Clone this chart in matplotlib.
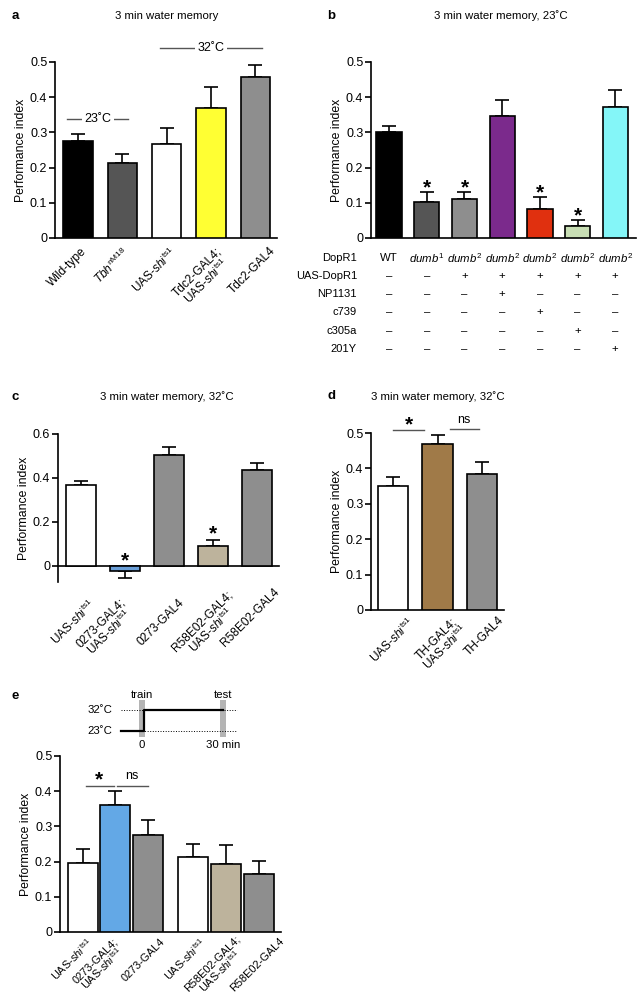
import matplotlib
matplotlib.use('Agg')
import matplotlib.pyplot as plt
import matplotlib.transforms as mtransforms
import numpy as np

plt.rcParams['font.family'] = ['Liberation Sans', 'DejaVu Sans']
plt.rcParams['mathtext.fontset'] = 'custom'
plt.rcParams['mathtext.rm'] = 'Liberation Sans'
plt.rcParams['mathtext.it'] = 'Liberation Sans:italic'
plt.rcParams['mathtext.bf'] = 'Liberation Sans:bold'

W, H = 642, 999
fig = plt.figure(figsize=(W / 100, H / 100), dpi=100)

SHI = r'UAS-$\mathit{shi}^{\mathrm{ts1}}$'

# ---------------- data ----------------
a_labels = ['Wild-type', r'$\mathit{Tbh}^{\mathrm{nM18}}$', SHI, 'Tdc2-GAL4;\n' + SHI, 'Tdc2-GAL4']
a_means = [0.276, 0.214, 0.268, 0.368, 0.458]
a_errs = [0.019, 0.025, 0.044, 0.062, 0.034]
a_colors = ['#000000', '#555555', '#ffffff', '#ffff33', '#8e8e8e']

b_means = [0.302, 0.101, 0.110, 0.347, 0.083, 0.033, 0.371]
b_errs = [0.017, 0.029, 0.020, 0.046, 0.033, 0.019, 0.049]
b_colors = ['#000000', '#555555', '#8e8e8e', '#7b2a8c', '#e0300f', '#c8deb4', '#84f6f8']
b_stars = [False, True, True, False, True, True, False]
b_row_labels = ['DopR1', 'UAS-DopR1', 'NP1131', 'c739', 'c305a', '201Y']
b_rows = [
    ['WT', r'$\mathit{dumb}^{\mathrm{1}}$', r'$\mathit{dumb}^{\mathrm{2}}$', r'$\mathit{dumb}^{\mathrm{2}}$',
     r'$\mathit{dumb}^{\mathrm{2}}$', r'$\mathit{dumb}^{\mathrm{2}}$', r'$\mathit{dumb}^{\mathrm{2}}$'],
    ['–', '–', '+', '+', '+', '+', '+'],
    ['–', '–', '–', '+', '–', '–', '–'],
    ['–', '–', '–', '–', '+', '–', '–'],
    ['–', '–', '–', '–', '–', '+', '–'],
    ['–', '–', '–', '–', '–', '–', '+'],
]

c_labels = [SHI, '0273-GAL4;\n' + SHI, '0273-GAL4', 'R58E02-GAL4;\n' + SHI, 'R58E02-GAL4']
c_means = [0.370, -0.023, 0.503, 0.092, 0.436]
c_errs = [0.018, 0.030, 0.036, 0.028, 0.034]
c_colors = ['#ffffff', '#6a9fd8', '#8e8e8e', '#bdb39c', '#8e8e8e']
c_stars = [False, True, False, True, False]

d_labels = [SHI, 'TH-GAL4;\n' + SHI, 'TH-GAL4']
d_means = [0.350, 0.469, 0.385]
d_errs = [0.027, 0.026, 0.032]
d_colors = ['#ffffff', '#a07a48', '#8e8e8e']

e_labels = [SHI, '0273-GAL4;\n' + SHI, '0273-GAL4', SHI, 'R58E02-GAL4;\n' + SHI, 'R58E02-GAL4']
e_pos = [0, 1, 2, 3.4, 4.4, 5.4]
e_means = [0.197, 0.360, 0.275, 0.213, 0.194, 0.166]
e_errs = [0.038, 0.041, 0.044, 0.037, 0.054, 0.037]
e_colors = ['#ffffff', '#63a8e6', '#8e8e8e', '#ffffff', '#bdb39c', '#8e8e8e']

FS = 8.2      # titles / annotations
TFS = 9.0     # tick labels
XFS = 8.6     # rotated category labels
YFS = 8.8     # y label
LW = 1.2


def px_axes(x0, y0, x1, y1):
    return fig.add_axes([x0 / W, 1 - y1 / H, (x1 - x0) / W, (y1 - y0) / H])


def style(ax, xlim, ylim, yticks):
    ax.set_xlim(*xlim)
    ax.set_ylim(*ylim)
    for s in ['top', 'right']:
        ax.spines[s].set_visible(False)
    ax.spines['left'].set_linewidth(LW)
    ax.spines['bottom'].set_linewidth(LW)
    ax.set_yticks(yticks)
    ax.set_yticklabels([f'{v:g}' for v in yticks])
    ax.tick_params(axis='y', length=4, width=LW, labelsize=TFS, pad=1.5)
    ax.tick_params(axis='x', length=0, labelsize=XFS, pad=3)
    ax.set_ylabel('Performance index', fontsize=YFS, labelpad=2)


def bars(ax, x, means, errs, colors, width):
    for xi, m, e in zip(x, means, errs):
        lo, hi = (0, e) if m >= 0 else (e, 0)
        ax.errorbar(xi, m, yerr=[[lo], [hi]], fmt='none', ecolor='black',
                    elinewidth=LW, capsize=5, capthick=LW, zorder=2, clip_on=False)
    ax.bar(x, means, width, color=colors, edgecolor='black', linewidth=LW, zorder=3)


def xlabels(ax, x, labels, offsets, pad, fs=XFS, ls=0.92):
    ax.set_xticks(x)
    ax.set_xticklabels(labels, rotation=45, ha='right', va='top', rotation_mode='anchor',
                       fontsize=fs, multialignment='center', linespacing=ls)
    ax.tick_params(axis='x', pad=pad)
    for lab, (dx, dy) in zip(ax.get_xticklabels(), offsets):
        off = mtransforms.ScaledTranslation(dx / 100, -dy / 100, fig.dpi_scale_trans)
        lab.set_transform(lab.get_transform() + off)


# ---------------- panel a ----------------
axa = px_axes(55, 62, 277, 238)
xa = np.arange(len(a_means))
bars(axa, xa, a_means, a_errs, a_colors, 0.66)
style(axa, (-0.52, 4.49), (0, 0.5), [0, 0.1, 0.2, 0.3, 0.4, 0.5])
xlabels(axa, xa, a_labels, [(3, 0), (0, 0), (3, 0), (5, 0), (14, 0)], 5)
axa.plot([-0.25, 1.13], [0.338, 0.338], color='#555555', lw=1.0, clip_on=False)
axa.text(0.45, 0.338, '23˚C', ha='center', va='center', fontsize=9,
         bbox=dict(fc='white', ec='none', pad=1.5), zorder=5)
axa.plot([1.85, 4.15], [0.54, 0.54], color='#555555', lw=1.0, clip_on=False)
axa.text(3.0, 0.54, '32˚C', ha='center', va='center', fontsize=9,
         bbox=dict(fc='white', ec='none', pad=1.5), zorder=5, clip_on=False)

# ---------------- panel b ----------------
axb = px_axes(371, 62, 636, 238)
xb = np.arange(len(b_means))
bars(axb, xb, b_means, b_errs, b_colors, 0.67)
style(axb, (-0.48, 6.55), (0, 0.5), [0, 0.1, 0.2, 0.3, 0.4, 0.5])
axb.set_xticks([])
for xi, m, e, s in zip(xb, b_means, b_errs, b_stars):
    if s:
        axb.text(xi, m + e + 0.012, '*', ha='center', va='center', fontsize=15, fontweight='bold')
tb = mtransforms.blended_transform_factory(axb.transData, fig.transFigure)
row_y = [258, 276, 294, 312, 331, 349]
for r, (lab, row) in enumerate(zip(b_row_labels, b_rows)):
    fig.text(357 / W, 1 - row_y[r] / H, lab, ha='right', va='center', fontsize=8)
    for xi, cell in zip(xb, row):
        axb.text(xi, 1 - row_y[r] / H, cell, transform=tb, ha='center', va='center',
                 fontsize=8.2, clip_on=False)

# ---------------- panel c ----------------
axc = px_axes(58, 434, 279, 582)
xc = np.arange(len(c_means))
bars(axc, xc, c_means, c_errs, c_colors, 0.68)
style(axc, (-0.52, 4.5), (-0.073, 0.6), [0, 0.2, 0.4, 0.6])
axc.spines['bottom'].set_position(('data', 0))
xlabels(axc, xc, c_labels, [(7, 0), (-6, 0), (9, 0), (14, -8), (16, -10)], 22)
for xi, m, e, s in zip(xc, c_means, c_errs, c_stars):
    if s:
        top = m + e if m >= 0 else 0
        axc.text(xi, top + 0.024, '*', ha='center', va='center', fontsize=15, fontweight='bold')

# ---------------- panel d ----------------
axd = px_axes(371, 433, 504, 610)
xd = np.arange(len(d_means))
bars(axd, xd, d_means, d_errs, d_colors, 0.68)
style(axd, (-0.5, 2.5), (0, 0.5), [0, 0.1, 0.2, 0.3, 0.4, 0.5])
xlabels(axd, xd, d_labels, [(14, 0), (15, 0), (16, 0)], 3)
axd.plot([0.0, 0.7], [0.508, 0.508], color='#555555', lw=1.0, clip_on=False)
axd.plot([1.29, 1.94], [0.511, 0.511], color='#555555', lw=1.0, clip_on=False)
axd.text(0.35, 0.522, '*', ha='center', va='center', fontsize=15, fontweight='bold', clip_on=False)
axd.text(1.6, 0.538, 'ns', ha='center', va='center', fontsize=9, clip_on=False)

# ---------------- panel e ----------------
axe = px_axes(60, 756, 281, 932)
bars(axe, e_pos, e_means, e_errs, e_colors, 0.92)
style(axe, (-0.7, 6.09), (0, 0.5), [0, 0.1, 0.2, 0.3, 0.4, 0.5])
xlabels(axe, e_pos, e_labels, [(3, 0), (-3, 0), (12, 0), (5, 0), (9, -2), (20, 0)], 3,
        fs=7.9, ls=0.86)
axe.plot([0.1, 0.95], [0.415, 0.415], color='#555555', lw=1.0)
axe.plot([1.05, 2.0], [0.415, 0.415], color='#555555', lw=1.0)
axe.text(0.5, 0.432, '*', ha='center', va='center', fontsize=15, fontweight='bold')
axe.text(1.5, 0.443, 'ns', ha='center', va='center', fontsize=9)

# schematic
axs = px_axes(100, 688, 245, 750)
axs.set_xlim(-15.56, 38.15)
axs.set_ylim(14.86, 41.43)
axs.axis('off')
for t in [0, 30]:
    axs.add_patch(plt.Rectangle((t - 1.1, 20.4), 2.2, 15.9, color='#b4b4b4', lw=0, zorder=1))
axs.plot([-7.8, 35.2], [32, 32], ls=':', color='black', lw=0.7, zorder=2)
axs.plot([0, 35.2], [23, 23], ls=':', color='black', lw=0.7, zorder=2)
axs.plot([-7.8, 0.6, 0.6, 30], [23, 23, 32, 32], color='black', lw=1.6, zorder=3)
axs.text(0, 38.6, 'train', ha='center', va='center', fontsize=FS)
axs.text(30, 38.6, 'test', ha='center', va='center', fontsize=FS)
axs.text(-11.1, 32, '32˚C', ha='right', va='center', fontsize=FS)
axs.text(-11.1, 23, '23˚C', ha='right', va='center', fontsize=FS)
axs.text(0, 17, '0', ha='center', va='center', fontsize=FS)
axs.text(30, 17, '30 min', ha='center', va='center', fontsize=FS)

# ---------------- titles and panel letters ----------------
for lab, x, y in [('a', 12, 16), ('b', 327, 16), ('c', 12, 397), ('d', 327, 396), ('e', 12, 696)]:
    fig.text(x / W, 1 - y / H, lab, ha='left', va='center', fontsize=9.5, fontweight='bold')
for t, x, y in [('3 min water memory', 167, 16), ('3 min water memory, 23˚C', 501, 16),
                ('3 min water memory, 32˚C', 167, 397), ('3 min water memory, 32˚C', 438, 397)]:
    fig.text(x / W, 1 - y / H, t, ha='center', va='center', fontsize=FS)

fig.savefig('out.png', dpi=100)
